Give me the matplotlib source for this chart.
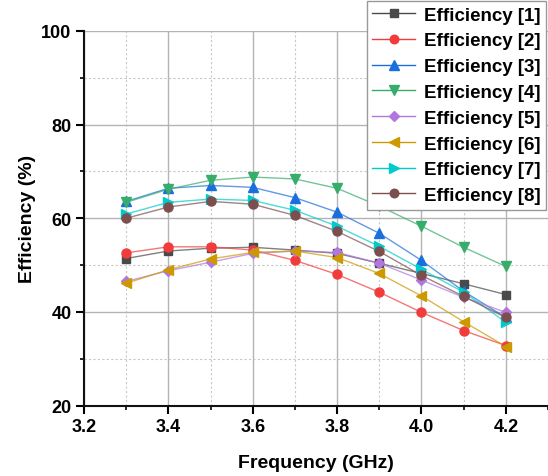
import matplotlib
matplotlib.use("Agg")
import matplotlib.pyplot as plt
from matplotlib.ticker import MultipleLocator
from matplotlib.lines import Line2D

plt.rcParams['font.family'] = ['Liberation Sans', 'DejaVu Sans']

freq = [3.3, 3.4, 3.5, 3.6, 3.7, 3.8, 3.9, 4.0, 4.1, 4.2]
eff1 = [51.4, 53.0, 53.6, 53.8, 53.2, 52.5, 50.4, 48.2, 46.0, 43.7]
eff2 = [52.6, 53.9, 53.9, 53.2, 51.0, 48.0, 44.2, 39.9, 36.0, 32.8]
eff3 = [63.6, 66.4, 67.0, 66.6, 64.4, 61.3, 56.8, 51.0, 44.4, 38.8]
eff4 = [63.4, 66.2, 68.1, 68.8, 68.4, 66.4, 62.6, 58.3, 53.8, 49.7]
eff5 = [46.5, 48.8, 50.6, 52.5, 53.0, 52.7, 50.4, 46.8, 43.1, 39.9]
eff6 = [46.1, 49.0, 51.3, 52.7, 53.0, 51.6, 48.2, 43.4, 37.9, 32.6]
eff7 = [60.9, 63.4, 64.1, 63.8, 61.7, 58.3, 54.0, 49.1, 44.2, 37.8]
eff8 = [60.0, 62.4, 63.6, 63.0, 60.6, 57.2, 52.9, 47.8, 43.3, 38.8]
labels = ['Efficiency [1]', 'Efficiency [2]', 'Efficiency [3]', 'Efficiency [4]',
          'Efficiency [5]', 'Efficiency [6]', 'Efficiency [7]', 'Efficiency [8]']

series = [eff1, eff2, eff3, eff4, eff5, eff6, eff7, eff8]
colors = ['#4a4a4a', '#f23c3c', '#1a6fdf', '#37ad6b', '#b177de', '#cc9900', '#00cbcc', '#7d4e4e']
markers = ['s', 'o', '^', 'v', 'D', '<', '>', 'o']
msizes = [6, 6.5, 7.2, 7.2, 5, 7.2, 7.2, 6.5]

fig = plt.figure(figsize=(5.48, 4.77), dpi=100)
ax = fig.add_axes([84/548, 1-406.5/477, 1-84/548, (406.5-32)/477])

for y, c, m, ms, lab in zip(series, colors, markers, msizes, labels):
    ax.plot(freq, y, color=c, lw=0, marker=m, ms=ms, mec=c, mfc=c, zorder=4)
    ax.plot(freq, y, color=c, alpha=0.7, lw=1.0, zorder=3)

handles = [Line2D([0], [0], color=c, lw=1.0, marker=m, ms=ms * 0.95, mec=c, mfc=c)
           for c, m, ms in zip(colors, markers, msizes)]
leg = ax.legend(handles, labels, loc='upper right', bbox_to_anchor=(546/548, 1-2/477),
                bbox_transform=fig.transFigure, prop={'weight': 'bold', 'size': 13.5},
                frameon=True, fancybox=False, edgecolor='#999999', framealpha=1,
                borderaxespad=0, handlelength=2.3, handletextpad=0.45,
                labelspacing=0.46, borderpad=0.3)
leg.get_frame().set_linewidth(1.0)
leg.set_zorder(10)

ax.set_xlim(3.2, 4.3)
ax.set_ylim(20, 100)
ax.xaxis.set_minor_locator(MultipleLocator(0.1))
ax.yaxis.set_major_locator(MultipleLocator(20))
ax.yaxis.set_minor_locator(MultipleLocator(10))
ax.set_xticks([3.2, 3.4, 3.6, 3.8, 4.0, 4.2])
ax.set_xticklabels(['3.2', '3.4', '3.6', '3.8', '4.0', '4.2'])

ax.grid(which='major', color='#b4b4b4', lw=1.0, ls='-', zorder=0)
ax.grid(which='minor', color='#c8c8c8', lw=0.8, ls=(0, (2, 2)), zorder=0)
ax.set_axisbelow(True)

for s in ['top', 'right']:
    ax.spines[s].set_visible(False)
for s in ['left', 'bottom']:
    ax.spines[s].set_linewidth(1.5)
    ax.spines[s].set_color('#111111')

ax.tick_params(which='major', direction='out', length=6, width=1.5, labelsize=13, pad=3)
ax.tick_params(which='minor', direction='out', length=3, width=1.2)
for t in ax.get_xticklabels() + ax.get_yticklabels():
    t.set_fontweight('bold')

ax.set_xlabel('Frequency (GHz)', fontsize=14, fontweight='bold', labelpad=14)
ax.set_ylabel('Efficiency (%)', fontsize=14, fontweight='bold', labelpad=4)

fig.savefig('out.png', dpi=100)
